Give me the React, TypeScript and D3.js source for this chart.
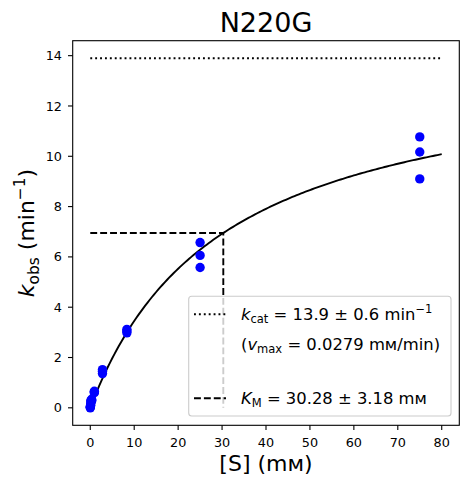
import React from "react";
import * as d3 from "d3";

const concentrations = [75, 75, 75, 25, 25, 25, 8.333, 8.333, 8.333, 2.778, 2.778, 2.778, 0.926, 0.926, 0.926, 0.309, 0.309, 0.309, 0.103, 0.103, 0.103, 0, 0, 0];
const kobsValues = [10.77, 10.17, 9.1, 6.57, 6.06, 5.58, 3.12, 3.05, 2.98, 1.52, 1.45, 1.36, 0.66, 0.63, 0.6, 0.34, 0.3, 0.27, 0.28, 0.18, 0.1, 0.05, 0.02, 0.0];
const kcat = 13.9;
const KM = 30.28;
const xTicks = [0, 10, 20, 30, 40, 50, 60, 70, 80];
const yTicks = [0, 2, 4, 6, 8, 10, 12, 14];
const title = "N220G";

const W = 469, H = 484;
const L = 72.7, R = 459.3, T = 40.7, B = 425.3;
const FONT = "DejaVu Sans, sans-serif";

export default function App() {
  const x = d3.scaleLinear().domain([-4, 84]).range([L, R]);
  const y = d3.scaleLinear().domain([-0.695, 14.595]).range([B, T]);
  const curveX = d3.range(0, 80.0001, 0.5);
  const line = d3.line<number>().x((s) => x(s)).y((s) => y((kcat * s) / (KM + s)));
  const half = kcat / 2;

  return (
    <svg width={W} height={H} style={{ position: "absolute", left: 0, top: 0, background: "#fff" }} fontFamily={FONT}>
      <rect x={0} y={0} width={W} height={H} fill="#fff" />
      <line x1={x(0)} x2={x(80)} y1={y(kcat)} y2={y(kcat)} stroke="#000" strokeWidth={1.9} strokeDasharray="1.9,3" />
      <path d={`M${x(0)},${y(half)}L${x(KM)},${y(half)}L${x(KM)},${y(0)}`} fill="none" stroke="#000" strokeWidth={1.9} strokeDasharray="6.9,3" />
      <path d={line(curveX) || ""} fill="none" stroke="#000" strokeWidth={1.9} />
      {concentrations.map((c, i) => (
        <circle key={i} cx={x(c)} cy={y(kobsValues[i])} r={4.7} fill="#0000ff" />
      ))}
      <rect x={L} y={T} width={R - L} height={B - T} fill="none" stroke="#000" strokeWidth={1.1} />
      {xTicks.map((t) => (
        <g key={t}>
          <line x1={x(t)} x2={x(t)} y1={B} y2={B + 4.7} stroke="#000" strokeWidth={1.1} />
          <text x={x(t)} y={447} textAnchor="middle" fontSize={12.8} fill="#000">{t}</text>
        </g>
      ))}
      {yTicks.map((t) => (
        <g key={t}>
          <line x1={L - 4.7} x2={L} y1={y(t)} y2={y(t)} stroke="#000" strokeWidth={1.1} />
          <text x={62} y={y(t) + 4.6} textAnchor="end" fontSize={12.8} fill="#000">{t}</text>
        </g>
      ))}
      <text x={(L + R) / 2} y={31.5} textAnchor="middle" fontSize={27} fill="#000">{title}</text>
      <text x={(L + R) / 2} y={471} textAnchor="middle" fontSize={22} fill="#000">[S] (mᴍ)</text>
      <text transform={`translate(34,${(T + B) / 2}) rotate(-90)`} textAnchor="middle" fontSize={22} fill="#000">
        <tspan fontStyle="italic">k</tspan>
        <tspan dy={4.5} fontSize={15.4}>obs</tspan>
        <tspan dy={-4.5}> (min</tspan>
        <tspan dy={-9} fontSize={15.4}>−1</tspan>
        <tspan dy={9}>)</tspan>
      </text>
      <rect x={188.7} y={296.3} width={451 - 188.7} height={416 - 296.3} rx={3} ry={3} fill="#fff" fillOpacity={0.8} stroke="#cccccc" strokeWidth={1.1} />
      <line x1={194} x2={226} y1={314.3} y2={314.3} stroke="#000" strokeWidth={1.9} strokeDasharray="1.9,3" />
      <line x1={194} x2={226} y1={398.3} y2={398.3} stroke="#000" strokeWidth={1.9} strokeDasharray="6.9,3" />
      <text x={241} y={320} fontSize={16.4} fill="#000">
        <tspan fontStyle="italic">k</tspan>
        <tspan dy={3.4} fontSize={11.5}>cat</tspan>
        <tspan dy={-3.4}> = 13.9 ± 0.6 min</tspan>
        <tspan dy={-6.7} fontSize={11.5}>−1</tspan>
      </text>
      <text x={241} y={350} fontSize={16.4} fill="#000">
        <tspan>(</tspan>
        <tspan fontStyle="italic">v</tspan>
        <tspan dy={3.4} fontSize={11.5}>max</tspan>
        <tspan dy={-3.4}> = 0.0279 mᴍ/min)</tspan>
      </text>
      <text x={241} y={404} fontSize={16.4} fill="#000">
        <tspan fontStyle="italic">K</tspan>
        <tspan dy={3.4} fontSize={11.5}>M</tspan>
        <tspan dy={-3.4}> = 30.28 ± 3.18 mᴍ</tspan>
      </text>
    </svg>
  );
}
